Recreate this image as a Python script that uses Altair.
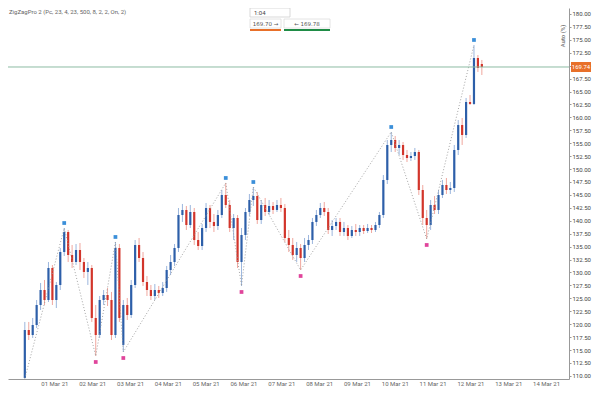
import altair as alt
import pandas as pd

# ---- OHLC values ----
open_ = [109.59, 118.88, 117.91, 119.84, 123.71, 126.61, 124.68, 130.87, 124.68, 127.58,
         133.96, 137.83, 133.38, 132.03, 134.35, 132.03, 130.10, 130.87, 121.20, 117.91,
         124.68, 125.65, 124.68, 117.91, 134.74, 116.00, 123.71, 121.78, 127.58, 135.32,
         132.80, 128.16, 126.61, 125.45, 126.61, 126.03, 127.00, 130.48, 132.03, 134.74,
         141.12, 142.09, 139.18, 141.70, 136.28, 135.12, 138.60, 142.47, 139.77, 138.99,
         141.12, 144.99, 143.05, 138.60, 140.54, 132.03, 137.25, 141.70, 144.02, 144.79,
         140.15, 143.05, 141.70, 142.86, 142.09, 143.05, 142.47, 136.67, 135.32, 133.38,
         134.74, 132.80, 135.32, 136.28, 139.77, 141.12, 142.47, 141.70, 138.22, 138.99,
         139.77, 137.83, 138.60, 137.06, 138.22, 137.83, 138.60, 138.02, 138.60, 138.22,
         139.18, 141.12, 147.89, 154.66, 155.62, 154.08, 154.66, 152.72, 152.14, 152.53,
         153.30, 145.95, 140.54, 139.18, 143.05, 142.09, 144.99, 146.92, 145.95, 146.34,
         153.69, 158.52, 156.59, 162.97, 162.59, 171.48, 170.32]
high = [120.43, 120.43, 121.20, 124.68, 127.97, 128.55, 132.03, 131.45, 128.16, 134.74,
        138.60, 138.22, 135.32, 135.51, 135.70, 132.80, 132.03, 131.45, 123.71, 125.45,
        126.61, 127.00, 126.23, 135.90, 135.51, 124.68, 125.07, 128.55, 136.28, 136.67,
        133.96, 129.32, 127.58, 127.77, 127.39, 128.16, 131.26, 133.38, 135.51, 142.47,
        143.25, 142.86, 143.05, 142.47, 137.83, 139.38, 143.44, 143.05, 141.31, 142.09,
        145.95, 147.31, 144.02, 141.31, 141.12, 138.60, 142.47, 145.18, 146.53, 145.57,
        144.02, 144.41, 144.02, 143.63, 144.02, 144.41, 143.25, 138.22, 136.67, 135.90,
        135.51, 136.67, 137.25, 140.54, 142.09, 143.44, 143.63, 142.47, 140.15, 140.54,
        140.54, 139.77, 139.18, 138.99, 139.38, 139.18, 139.18, 139.38, 139.18, 139.77,
        141.70, 148.85, 155.62, 157.17, 156.40, 155.62, 155.24, 153.69, 153.30, 154.08,
        153.69, 146.92, 142.09, 144.02, 144.79, 145.95, 147.89, 148.27, 147.50, 154.66,
        159.49, 159.88, 163.75, 164.33, 174.00, 172.06, 171.10]
low = [109.50, 116.94, 117.33, 119.26, 122.75, 123.71, 124.29, 123.71, 123.13, 126.61,
       133.19, 132.03, 130.87, 131.45, 130.48, 128.93, 127.58, 120.43, 113.85, 117.33,
       123.71, 123.52, 116.94, 117.33, 120.43, 114.62, 120.81, 121.20, 127.00, 132.03,
       127.39, 125.45, 124.68, 124.68, 125.07, 125.45, 126.23, 129.51, 131.26, 133.96,
       139.77, 138.22, 138.60, 135.32, 134.35, 134.35, 137.83, 138.60, 137.83, 138.22,
       140.54, 142.47, 137.83, 136.28, 130.87, 127.39, 136.28, 140.93, 142.86, 139.38,
       139.38, 140.93, 141.12, 141.31, 141.70, 141.70, 135.90, 133.96, 132.42, 132.03,
       130.48, 132.03, 134.35, 135.51, 138.99, 140.54, 140.93, 137.44, 137.06, 138.22,
       137.06, 137.06, 136.28, 136.67, 137.06, 137.06, 137.44, 137.64, 137.64, 137.83,
       138.60, 140.54, 147.11, 153.30, 153.30, 152.72, 151.76, 151.37, 151.56, 151.76,
       144.99, 139.18, 136.48, 138.22, 141.31, 141.31, 144.41, 145.18, 145.18, 145.57,
       152.72, 154.66, 156.01, 162.39, 162.39, 168.78, 168.19]
close = [118.88, 117.91, 119.84, 123.71, 126.61, 124.68, 130.87, 124.68, 127.58, 133.96,
         137.83, 133.38, 132.03, 134.35, 132.03, 130.10, 130.87, 121.20, 117.91, 124.68,
         125.65, 124.68, 117.91, 134.74, 121.20, 123.71, 121.78, 127.58, 135.32, 132.80,
         128.16, 126.61, 125.45, 126.61, 126.03, 127.00, 130.48, 132.03, 134.74, 141.12,
         142.09, 139.18, 141.70, 136.28, 135.12, 138.60, 142.47, 139.77, 138.99, 141.12,
         144.99, 143.05, 138.60, 140.54, 132.03, 137.25, 141.70, 144.02, 144.79, 140.15,
         143.05, 141.70, 142.86, 142.09, 143.05, 142.47, 136.67, 135.32, 133.38, 134.74,
         132.80, 135.32, 136.28, 139.77, 141.12, 142.47, 141.70, 138.22, 138.99, 139.77,
         137.83, 138.60, 137.06, 138.22, 137.83, 138.60, 138.02, 138.60, 138.22, 139.18,
         141.12, 147.89, 154.66, 155.62, 154.08, 154.66, 152.72, 152.14, 152.53, 153.30,
         145.95, 140.54, 139.18, 143.05, 142.09, 144.99, 146.92, 145.95, 146.34, 153.69,
         158.52, 156.59, 162.97, 162.59, 171.48, 169.55, 169.74]

# bar times (150-minute bars)
dates = pd.date_range("2021-02-28 05:15", periods=len(close), freq="150min").strftime("%Y-%m-%dT%H:%M:%S").tolist()

# zigzag pivots (bar index and kind)
pivot_idx = [0, 10, 18, 23, 25, 51, 55, 58, 70, 93, 102, 114]
pivot_kind = ["start", "H", "L", "H", "L", "H", "L", "H", "L", "H", "L", "H"]

# axis ticks
x_tick_days = list(range(1, 15))
y_ticks = [110 + 2.5 * k for k in range(29)]

# header texts
indicator_text = "ZigZagPro 2 (Pc, 23, 4, 23, 500, 8, 2, 2, On, 2)"
timer_text = "1:04"
sell_text = "169.70 \u2192"
buy_text = "\u2190 169.78"
scale_text = "Auto (%)"

# ---- tables ----
df = pd.DataFrame({"date": dates, "open": open_, "high": high, "low": low, "close": close})
piv = pd.DataFrame({
    "date": [dates[i] for i in pivot_idx],
    "kind": pivot_kind,
    "price": [high[i] if k == "H" else low[i] for i, k in zip(pivot_idx, pivot_kind)],
})
last = pd.DataFrame({"price": [close[-1]], "label": [f"{close[-1]:.2f}"]})
one = pd.DataFrame({"a": [0]})

FONT = "Roboto"
W, H = 561, 371

xscale = alt.Scale(domain=[alt.DateTime(year=2021, month=2, date=27, hours=21, minutes=45),
                           alt.DateTime(year=2021, month=3, date=14, hours=11, minutes=22, seconds=30)])
yscale = alt.Scale(domain=[109.40, 181.15], nice=False, zero=False)

xaxis = alt.Axis(values=[alt.DateTime(year=2021, month=3, date=d) for d in x_tick_days],
                 format="%d %b %y", labelFontSize=6, labelColor="#666", ticks=False,
                 domainColor="#999", grid=False, title=None, labelPadding=1, labelFont=FONT)
yaxis = alt.Axis(orient="right", values=y_ticks, format=".2f", labelFontSize=6, labelColor="#444",
                 tickSize=2, tickColor="#999", domainColor="#999", grid=False, title=None,
                 labelPadding=1, labelFont=FONT)


def X(field):
    return alt.X(field, type="temporal", scale=xscale, axis=xaxis)


def Y(field):
    return alt.Y(field, type="quantitative", scale=yscale, axis=yaxis)


up = alt.datum.close >= alt.datum.open

wick = alt.Chart(df).mark_rule(strokeWidth=1).encode(
    x=X("date"), y=Y("low"), y2="high",
    color=alt.condition(up, alt.value("#9cb6dd"), alt.value("#f0a79e")),
)
body = alt.Chart(df).mark_bar(size=2.2).encode(
    x=X("date"), y=Y("open"), y2="close",
    color=alt.condition(up, alt.value("#2d5fa9"), alt.value("#d2352b")),
)
zig = alt.Chart(piv).mark_line(strokeDash=[1, 2], strokeWidth=0.9, color="#9a9a9a").encode(
    x=X("date"), y=Y("price"),
)
hi_dots = alt.Chart(piv).transform_filter(alt.datum.kind == "H").mark_square(
    size=14, color="#3b8fd9", opacity=1, yOffset=-5).encode(x=X("date"), y=Y("price"))
lo_dots = alt.Chart(piv).transform_filter(alt.datum.kind == "L").mark_square(
    size=14, color="#e0449b", opacity=1, yOffset=6).encode(x=X("date"), y=Y("price"))
price_line = alt.Chart(last).mark_rule(color="#8dbba3", strokeWidth=1).encode(y=Y("price"))
price_box = alt.Chart(last).mark_tick(orient="horizontal", size=20, thickness=10,
                                      color="#e8702a", opacity=1).encode(
    x=alt.value(573), y=Y("price"))
price_txt = alt.Chart(last).mark_text(color="white", fontSize=6, font=FONT).encode(
    x=alt.value(573), y=Y("price"), text="label:N")

ind = alt.Chart(one).mark_text(align="left", baseline="top", fontSize=6, color="#666",
                               font=FONT, text=indicator_text).encode(
    x=alt.value(1), y=alt.value(1))
box = alt.Chart(one).mark_rect(fill="white", stroke="#cfcfcf", strokeWidth=0.8).encode(
    x=alt.value(242), x2=alt.value(282), y=alt.value(0), y2=alt.value(9))
box_t = alt.Chart(one).mark_text(align="left", baseline="middle", fontSize=6, color="#444",
                                 font=FONT, text=timer_text).encode(x=alt.value(246), y=alt.value(4.5))
btn1 = alt.Chart(one).mark_rect(fill="white", stroke="#dddddd", strokeWidth=0.8).encode(
    x=alt.value(242), x2=alt.value(273), y=alt.value(11), y2=alt.value(20))
btn2 = alt.Chart(one).mark_rect(fill="white", stroke="#dddddd", strokeWidth=0.8).encode(
    x=alt.value(276), x2=alt.value(322), y=alt.value(11), y2=alt.value(20))
btn1_t = alt.Chart(one).mark_text(baseline="middle", fontSize=5.5, color="#555", font="DejaVu Sans",
                                  text=sell_text).encode(x=alt.value(257.5), y=alt.value(15.5))
btn2_t = alt.Chart(one).mark_text(baseline="middle", fontSize=5.5, color="#555", font="DejaVu Sans",
                                  text=buy_text).encode(x=alt.value(299), y=alt.value(15.5))
bar_o = alt.Chart(one).mark_rule(color="#e8702a", strokeWidth=2).encode(
    x=alt.value(242), x2=alt.value(273), y=alt.value(22))
bar_g = alt.Chart(one).mark_rule(color="#1f8c46", strokeWidth=2).encode(
    x=alt.value(276), x2=alt.value(322), y=alt.value(22))
scale_t = alt.Chart(one).mark_text(angle=270, fontSize=6, color="#555", font=FONT,
                                   text=scale_text).encode(x=alt.value(555), y=alt.value(28))

chart = alt.layer(
    wick, body, zig, hi_dots, lo_dots, price_line, price_box, price_txt,
    ind, box, box_t, btn1, btn2, btn1_t, btn2_t, bar_o, bar_g, scale_t,
).properties(
    width=W, height=H,
    autosize=alt.AutoSizeParams(type="none"),
    padding={"left": 0, "top": 0, "right": 23, "bottom": 7},
    background="white",
).configure_view(stroke=None)

chart.save("out.html", embed_options={"renderer": "svg", "actions": False})
